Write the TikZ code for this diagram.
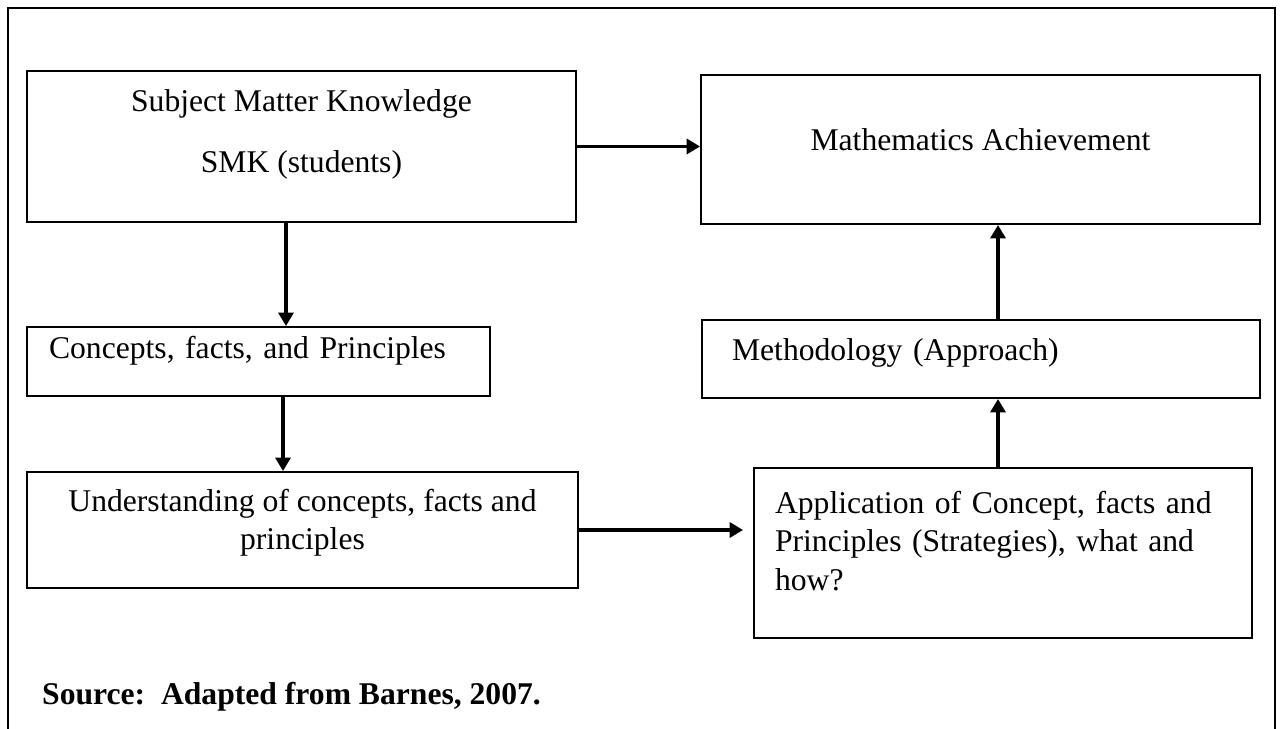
\documentclass[tikz,border=0pt]{standalone}
\usepackage{fontspec}
\setmainfont{Liberation Serif}
\usetikzlibrary{arrows.meta}

\begin{document}
\begin{tikzpicture}[
		x=0.02cm, y=-0.02cm,
		box/.style={rectangle, draw=black, line width=1.1pt, inner sep=0pt, font=\fontsize{18}{22}\selectfont},
		arrow/.style={line width=2pt, -{Triangle[length=0.27cm, width=0.3cm]}}
		]
		\useasboundingbox (0,0) rectangle (1281,729);
		
		% open frame round the figure
		\draw [line width=1.1pt] (8,729) -- (8,8) -- (1275,8) -- (1275,729);
		
		\node (smk) at (301.5,146.5) [box, align=center, minimum width=10.98cm, minimum height=3.02cm, text height=1.66cm, text depth=0.6cm] {Subject Matter Knowledge\\[0.46cm]SMK (students)};
		\node (math) at (980.5,149.5) [box, minimum width=11.18cm, minimum height=2.98cm, text height=0.44cm, text depth=0.38cm] {Mathematics Achievement};
		\node (concepts) at (258.5,361.5) [box, align=left, inner xsep=0.44cm, text width=8.38cm, minimum height=1.38cm, text height=0.44cm, text depth=0.58cm] {Concepts, facts, and Principles};
		\node (method) at (981,359) [box, align=left, inner xsep=0.6cm, text width=9.96cm, minimum height=1.56cm, text height=0.44cm, text depth=0.4cm] {Methodology (Approach)};
		\node (understand) at (302.5,530) [box, align=center, minimum width=11.02cm, minimum height=2.32cm, text height=1.2cm, text depth=0.4cm] {Understanding of concepts, facts and\\principles};
		\node (app) at (1003,553) [box, align=left, inner xsep=0.42cm, text width=9.12cm, minimum height=3.4cm, text height=0.44cm, text depth=2.04cm] {Application of Concept, facts and\\Principles (Strategies), what and\\how?};
		
		\node (source) at (36,704) [anchor=base west, font=\fontsize{18}{22}\selectfont\bfseries] {Source:\ \ Adapted from Barnes, 2007.};
		
		% x positions of the vertical arrows
		\coordinate (leftdrop) at (286,0);
		\coordinate (middrop) at (283,0);
		\coordinate (rightrise) at (998,0);
		
		\draw [arrow] (smk.east) -- (smk.east -| math.west);
		\draw [arrow] (smk.south -| leftdrop) -- (concepts.north -| leftdrop);
		\draw [arrow] (concepts.south -| middrop) -- (understand.north -| middrop);
		\draw [arrow] (understand.east) -- ([xshift=-0.2cm]understand.east -| app.west);
		\draw [arrow] (app.north -| rightrise) -- (method.south -| rightrise);
		\draw [arrow] (method.north -| rightrise) -- (math.south -| rightrise);
	\end{tikzpicture}
\end{document}
